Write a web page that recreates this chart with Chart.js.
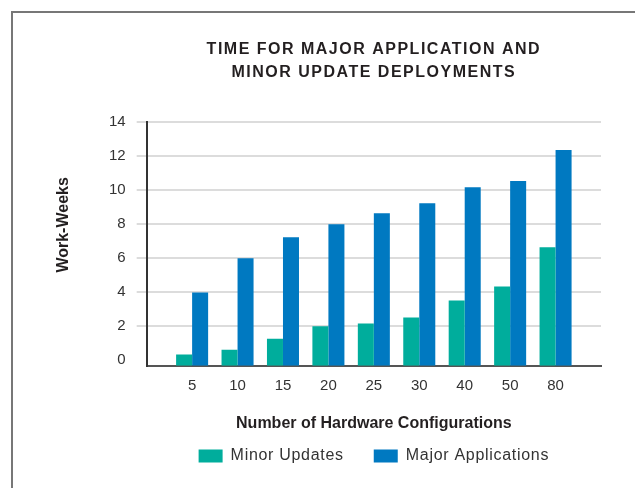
<!DOCTYPE html>
<html>
<head>
<meta charset="utf-8">
<script src="https://cdn.jsdelivr.net/npm/chart.js@4"></script>
<style>
    body { margin: 0; background: #fff; overflow: hidden; }
    #frame {
        position: absolute; left: 11px; top: 11px; width: 700px; height: 600px;
        border-left: 2px solid #777; border-top: 2px solid #777;
    }
    #wrap { position: absolute; left: 0; top: 0; width: 635px; height: 488px; }
</style>
</head>
<body>
<div id="frame"></div>
<div id="wrap"><canvas id="chart_1" width="635" height="488"></canvas></div>
<script>
// Dados
var configuracoes = ['5', '10', '15', '20', '25', '30', '40', '50', '80']
var minorUpdates = [0.35, 0.62, 1.27, 2.0, 2.16, 2.51, 3.51, 4.34, 6.64]
var majorApps = [3.98, 5.99, 7.23, 7.99, 8.64, 9.23, 10.17, 10.53, 12.35]
var ticksY = [0, 2, 4, 6, 8, 10, 12, 14]

// espaço vazio nas pontas do eixo x
var labels = [''].concat(configuracoes, [''])
var minorData = [null].concat(minorUpdates, [null])
var majorData = [null].concat(majorApps, [null])

// o eixo x fica um pouco abaixo do zero no original
var baseY = -0.32

var fonte = "'Liberation Sans', Arial, sans-serif"

// espaçamento entre letras só no título e na legenda
function comEspaco(box, valor) {
    if (!box || box._espaco) return
    box._espaco = true
    ;['fit', 'draw'].forEach(function (m) {
        const orig = box[m]
        box[m] = function () {
            const c = this.ctx
            const antes = c.letterSpacing
            c.letterSpacing = valor
            const r = orig.apply(this, arguments)
            c.letterSpacing = antes
            return r
        }
    })
}
// título do eixo y fica mais alto que o centro do gráfico
function subirTitulo(scale, dy) {
    if (!scale || scale._subiu) return
    scale._subiu = true
    const orig = scale.drawTitle
    scale.drawTitle = function () {
        this.ctx.save()
        this.ctx.translate(0, dy)
        orig.apply(this, arguments)
        this.ctx.restore()
    }
}
const ajustes = {
    id: 'ajustes',
    beforeLayout(chart) {
        comEspaco(chart.titleBlock, '1.5px')
        comEspaco(chart.legend, '0.7px')
        subirTitulo(chart.scales.y, -19)
    }
}

const ctx = document.getElementById('chart_1').getContext('2d')
const chart = new Chart(ctx, {
    type: 'bar',
    plugins: [ajustes],
    data: {
        labels: labels,
        datasets: [{
            label: 'Minor Updates',
            data: minorData,
            base: baseY,
            backgroundColor: '#00ad9c',
            categoryPercentage: 0.705,
            barPercentage: 1
        }, {
            label: 'Major Applications',
            data: majorData,
            base: baseY,
            backgroundColor: '#0079c1',
            categoryPercentage: 0.705,
            barPercentage: 1
        }]
    },
    options: {
        responsive: false,
        animation: false,
        layout: { padding: { left: 10, right: 34, top: 0, bottom: 14 } },
        plugins: {
            title: {
                display: true,
                fullSize: false,
                text: ['TIME FOR MAJOR APPLICATION AND', 'MINOR UPDATE DEPLOYMENTS'],
                color: '#231f20',
                font: { family: fonte, size: 16, weight: 'bold', lineHeight: 1.4375 },
                padding: { top: 38.5, bottom: 37.5 }
            },
            legend: {
                position: 'bottom',
                fullSize: false,
                labels: {
                    boxWidth: 24,
                    boxHeight: 13,
                    padding: 30,
                    color: '#333',
                    font: { family: fonte, size: 16 }
                }
            },
            tooltip: { enabled: false }
        },
        scales: {
            x: {
                offset: false,
                grid: { display: false, drawTicks: false },
                border: { display: true, color: '#555', width: 2 },
                ticks: {
                    color: '#333',
                    padding: 11,
                    maxRotation: 0,
                    autoSkip: false,
                    font: { family: fonte, size: 15 }
                },
                title: {
                    display: true,
                    text: 'Number of Hardware Configurations',
                    color: '#231f20',
                    font: { family: fonte, size: 16, weight: 'bold' },
                    padding: { top: 8, bottom: -15 }
                }
            },
            y: {
                min: baseY,
                max: 14,
                afterBuildTicks: function (scale) {
                    scale.ticks = ticksY.map(function (v) { return { value: v } })
                },
                grid: {
                    color: function (c) { return c.tick && c.tick.value === 0 ? 'rgba(0,0,0,0)' : '#dcdcdc' },
                    lineWidth: 2,
                    tickLength: 10
                },
                border: { display: true, color: '#333', width: 2 },
                ticks: {
                    color: '#333',
                    padding: 11,
                    font: { family: fonte, size: 15 }
                },
                title: {
                    display: true,
                    text: 'Work-Weeks',
                    color: '#231f20',
                    font: { family: fonte, size: 16, weight: 'bold' },
                    padding: { top: 44.4, bottom: 24.4 }
                }
            }
        }
    }
})
</script>
</body>
</html>
